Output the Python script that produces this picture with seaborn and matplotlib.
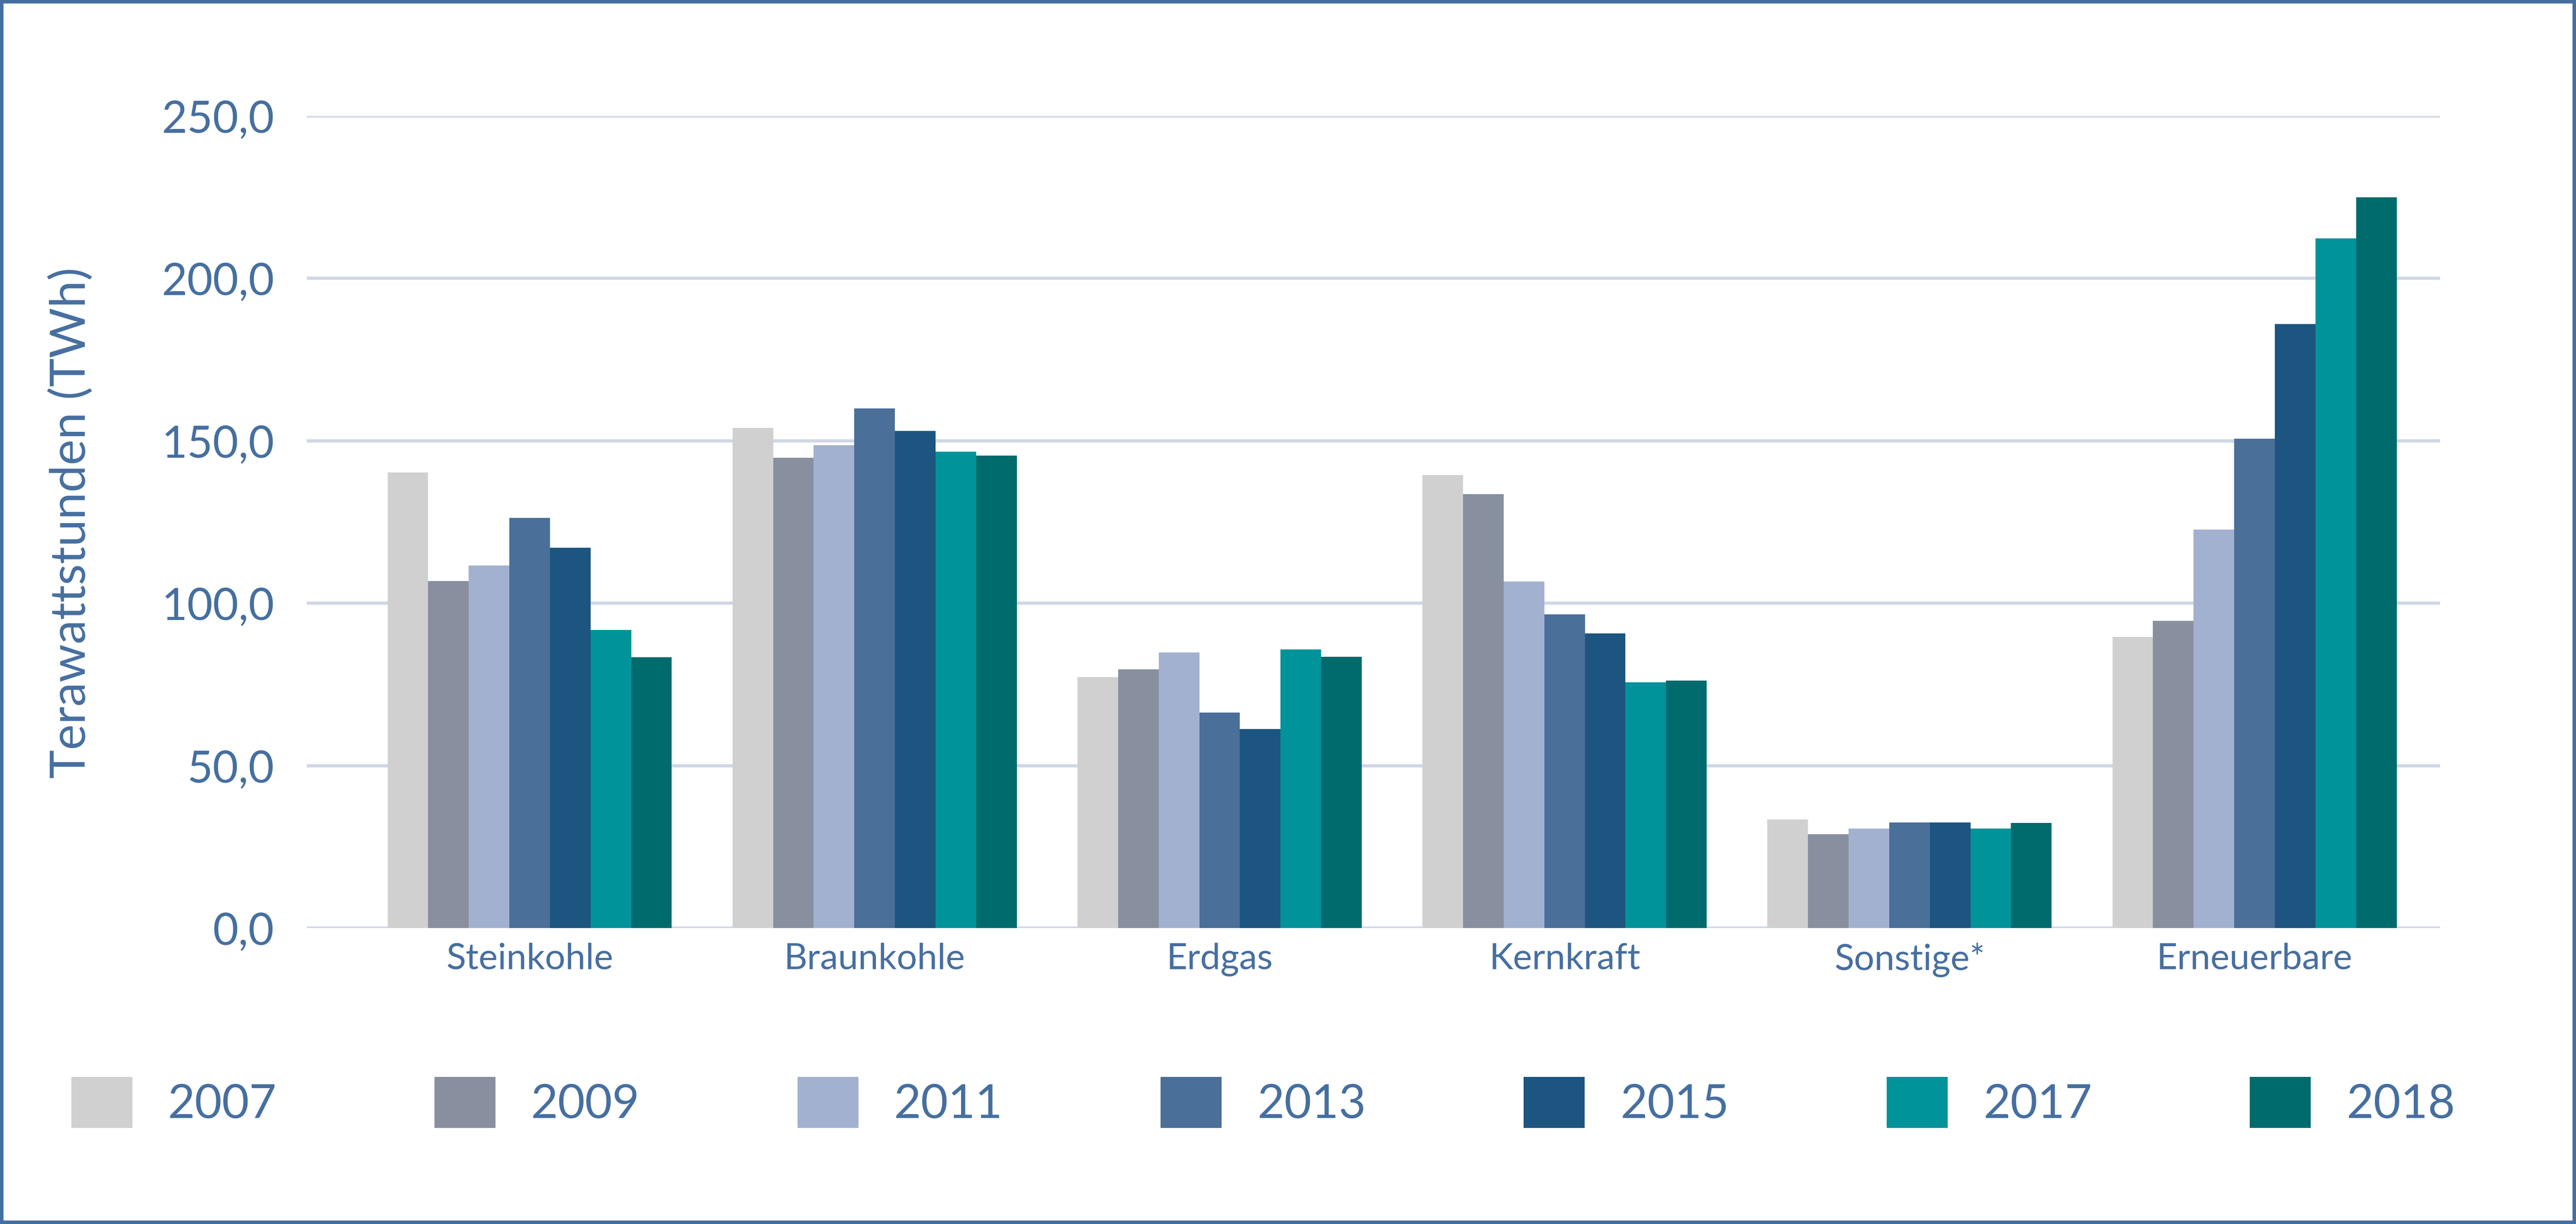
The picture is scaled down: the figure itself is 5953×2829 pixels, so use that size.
import matplotlib
matplotlib.use("Agg")
import matplotlib.pyplot as plt
import matplotlib.patches as mpatches
from matplotlib.ticker import FuncFormatter
import seaborn as sns
import pandas as pd

# ---- data ----
categories = ["Steinkohle", "Braunkohle", "Erdgas", "Kernkraft", "Sonstige*", "Erneuerbare"]
years = ["2007", "2009", "2011", "2013", "2015", "2017", "2018"]
steinkohle = [140.3, 106.8, 111.6, 126.3, 117.1, 91.8, 83.4]
braunkohle = [154.0, 144.8, 148.7, 159.9, 153.0, 146.6, 145.4]
erdgas = [77.3, 79.7, 84.9, 66.3, 61.3, 85.8, 83.5]
kernkraft = [139.5, 133.6, 106.7, 96.5, 90.7, 75.7, 76.2]
sonstige = [33.4, 28.9, 30.7, 32.5, 32.5, 30.7, 32.3]
erneuerbare = [89.6, 94.5, 122.7, 150.7, 185.9, 212.3, 225.0]
yticks = [0, 50, 100, 150, 200, 250]
ylabel = "Terawattstunden (TWh)"

colors = ["#D0D0D0", "#8890A0", "#A3B1D0", "#4A6F99", "#1C5580", "#00939A", "#006B6D"]
text_color = "#466FA0"
grid_color = "#D0D7E6"

series = [steinkohle, braunkohle, erdgas, kernkraft, sonstige, erneuerbare]
rows = []
for cat, vals in zip(categories, series):
    for yr, v in zip(years, vals):
        rows.append({"Kategorie": cat, "Jahr": yr, "TWh": v})
df = pd.DataFrame(rows)

sns.set_style("white")
plt.rcParams["font.family"] = ["Lato", "DejaVu Sans"]

W, H, DPI = 5953, 2829, 300
fig = plt.figure(figsize=(W / DPI, H / DPI), dpi=DPI)
ax = fig.add_axes([709 / W, 1 - 2145 / H, 4930 / W, 1877 / H])

sns.barplot(data=df, x="Kategorie", y="TWh", hue="Jahr", order=categories,
            hue_order=years, palette=colors, width=0.824, gap=0,
            linewidth=0, saturation=1, errorbar=None, ax=ax, zorder=3)

ax.set_xlim(-0.646, 5.538)
ax.set_ylim(0, 250)
ax.set_yticks(yticks)
ax.yaxis.set_major_formatter(FuncFormatter(lambda v, p: f"{v:.1f}".replace(".", ",")))
ax.grid(axis="y", color=grid_color, linewidth=1.8, zorder=0)
ax.grid(axis="x", visible=False)
ax.set_axisbelow(True)
for s in ax.spines.values():
    s.set_visible(False)
ax.tick_params(axis="y", length=0, pad=18, labelsize=24.5, labelcolor=text_color)
ax.tick_params(axis="x", length=0, pad=8, labelsize=20, labelcolor=text_color)
ax.set_xlabel("")
ax.set_ylabel("")

fig.text(164 / W, 1 - 1208 / H, ylabel, rotation=90, ha="center", va="center",
         fontsize=27, color=text_color)

handles, labels = ax.get_legend_handles_labels()
if ax.legend_ is not None:
    ax.legend_.remove()
leg = fig.legend(handles, labels, ncol=7, loc="center", mode="expand",
                 bbox_to_anchor=(165 / W, 1 - 2548 / H - 0.03, (5674 - 165) / W, 0.06),
                 frameon=False, fontsize=26, handlelength=1.3, handleheight=1.3,
                 handletextpad=0.76, borderpad=0, borderaxespad=0)
for t in leg.get_texts():
    t.set_color(text_color)

fig.patches.append(mpatches.Rectangle((0, 0), 1, 1, transform=fig.transFigure,
                                      fill=False, edgecolor="#466FA0",
                                      linewidth=16 * 72 / DPI, zorder=10))

fig.savefig("out.png", dpi=DPI, facecolor="white")
